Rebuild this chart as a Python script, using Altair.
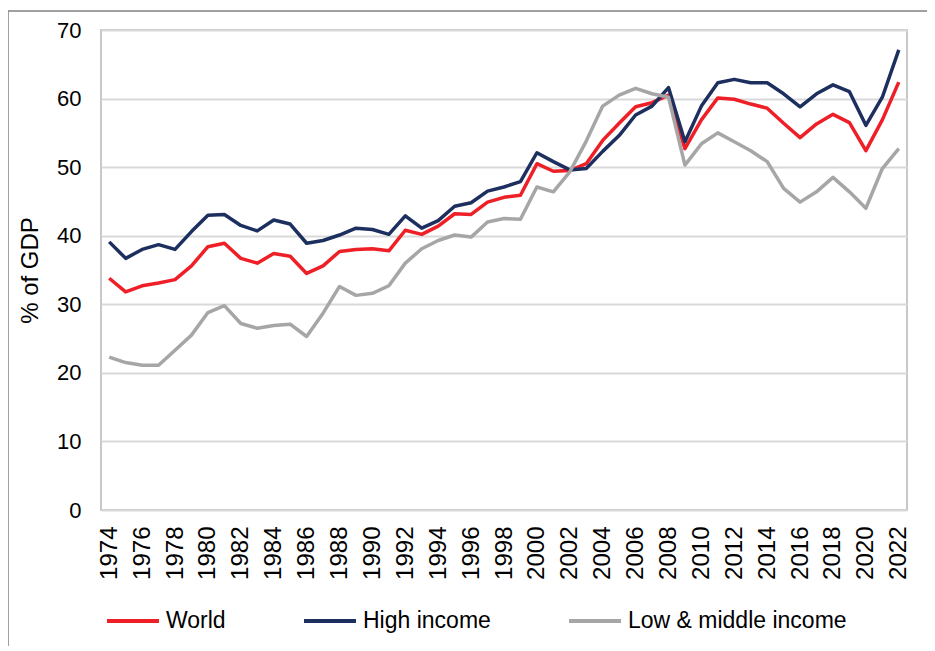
import altair as alt
import pandas as pd

years = list(range(1974, 2023))

world = [33.8, 31.8, 32.7, 33.1, 33.6, 35.6, 38.4, 38.9, 36.7, 36.0,
         37.4, 37.0, 34.5, 35.6, 37.7, 38.0, 38.1, 37.8, 40.8, 40.2,
         41.4, 43.2, 43.1, 44.9, 45.6, 45.9, 50.5, 49.4, 49.5, 50.5,
         53.9, 56.4, 58.8, 59.4, 60.5, 52.7, 56.9, 60.1, 59.9, 59.2,
         58.6, 56.4, 54.3, 56.3, 57.7, 56.5, 52.4, 56.9, 62.4]

high_income = [39.1, 36.7, 38.0, 38.7, 38.0, 40.6, 43.0, 43.1, 41.5, 40.7,
               42.3, 41.7, 38.9, 39.3, 40.1, 41.1, 40.9, 40.2, 42.9, 41.1,
               42.2, 44.3, 44.8, 46.5, 47.1, 47.9, 52.1, 50.8, 49.6, 49.8,
               52.3, 54.6, 57.6, 58.9, 61.6, 53.7, 58.9, 62.3, 62.8, 62.3,
               62.3, 60.7, 58.8, 60.7, 62.0, 61.0, 56.1, 60.2, 67.1]

low_middle = [22.3, 21.5, 21.1, 21.1, 23.3, 25.5, 28.8, 29.8, 27.2, 26.5,
              26.9, 27.1, 25.3, 28.7, 32.6, 31.3, 31.6, 32.7, 36.0, 38.1,
              39.3, 40.1, 39.8, 42.0, 42.5, 42.4, 47.1, 46.4, 49.3, 53.8,
              58.9, 60.5, 61.5, 60.7, 60.2, 50.3, 53.4, 55.0, 53.7, 52.4,
              50.8, 46.9, 44.9, 46.4, 48.5, 46.4, 44.0, 49.8, 52.7]

series_names = ["World", "High income", "Low & middle income"]
series_colors = ["#EE1F27", "#1D2F5E", "#A6A6A6"]
y_ticks = [0, 10, 20, 30, 40, 50, 60, 70]
x_label_years = [str(y) for y in years if y % 2 == 0]

rows = []
for name, vals in zip(series_names, [world, high_income, low_middle]):
    for y, v in zip(years, vals):
        rows.append({"year": str(y), "value": v, "series": name})
df = pd.DataFrame(rows)

FONT = "Liberation Sans"

lines = alt.Chart(df).mark_line(strokeWidth=3.5, strokeJoin="round").encode(
    x=alt.X("year:O", sort=[str(y) for y in years],
            axis=alt.Axis(values=x_label_years, labelAngle=270, labelPadding=16,
                          labelFontSize=24, labelColor="#000000", labelFont=FONT,
                          ticks=False, domain=False, grid=False, title=None)),
    y=alt.Y("value:Q", scale=alt.Scale(domain=[0, 70], nice=False),
            axis=alt.Axis(values=y_ticks, labelFontSize=22, labelColor="#000000",
                          labelFont=FONT, labelPadding=20, ticks=False, domain=False,
                          gridColor="#D9D9D9", gridWidth=2,
                          title="% of GDP", titleFont=FONT, titleFontSize=24,
                          titleFontWeight="normal", titleColor="#000000",
                          titleX=-71, titleY=240, titleAngle=270,
                          titleAlign="center", titleBaseline="middle")),
    color=alt.Color("series:N",
                    scale=alt.Scale(domain=series_names, range=series_colors),
                    legend=alt.Legend(orient="none", legendX=4, legendY=563,
                                      direction="horizontal", title=None,
                                      symbolType="stroke", symbolStrokeWidth=4,
                                      symbolSize=2700, labelFontSize=23,
                                      labelFont=FONT, labelColor="#000000",
                                      labelLimit=400, labelOffset=5,
                                      columnPadding=70)),
)

frame_df = pd.DataFrame({"k": [0]})
frame_top = alt.Chart(frame_df).mark_rule(color="#808080", strokeWidth=1.5).encode(
    x=alt.value(-93), x2=alt.value(830), y=alt.value(-19))
frame_left = alt.Chart(frame_df).mark_rule(color="#808080", strokeWidth=1.5).encode(
    x=alt.value(-93), y=alt.value(-19), y2=alt.value(640))

chart = alt.layer(frame_top, frame_left, lines).properties(
    width=806, height=480,
    autosize=alt.AutoSizeParams(type="none"),
    padding={"left": 93, "top": 22, "right": 20, "bottom": 136},
).configure_view(stroke="#C8C8C8", strokeWidth=2)

chart.save("out.html", embed_options={"renderer": "svg", "actions": False})
